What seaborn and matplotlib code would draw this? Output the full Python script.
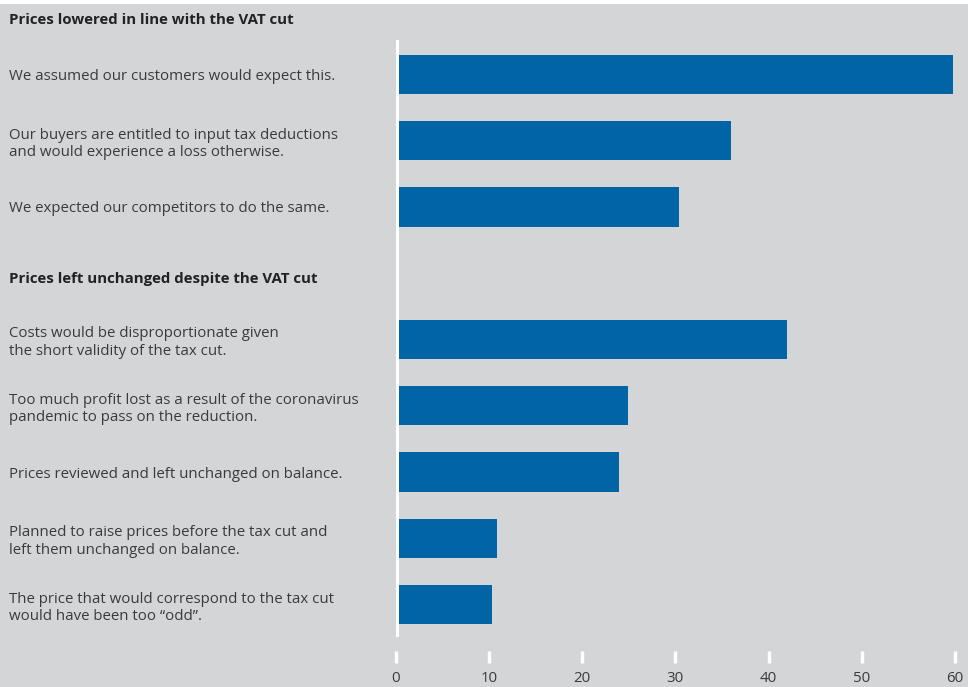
import matplotlib
matplotlib.use("Agg")
import matplotlib.pyplot as plt
import matplotlib.transforms as mtransforms
from matplotlib.patches import Rectangle
import seaborn as sns
import pandas as pd

headings = ["Prices lowered in line with the VAT cut",
            "Prices left unchanged despite the VAT cut"]
labels = [
    "We assumed our customers would expect this.",
    "Our buyers are entitled to input tax deductions\nand would experience a loss otherwise.",
    "We expected our competitors to do the same.",
    "Costs would be disproportionate given\nthe short validity of the tax cut.",
    "Too much profit lost as a result of the coronavirus\npandemic to pass on the reduction.",
    "Prices reviewed and left unchanged on balance.",
    "Planned to raise prices before the tax cut and\nleft them unchanged on balance.",
    "The price that would correspond to the tax cut\nwould have been too \u201codd\u201d.",
]
values = [59.8, 36.0, 30.4, 42.0, 24.9, 24.0, 10.9, 10.4]
xticks = [0, 10, 20, 30, 40, 50, 60]

BG = "#d4d5d7"
BLUE = "#0064a5"
TXT = "#3a3a3a"
FS = 10.8

sns.set_theme(style="white")
plt.rcParams['font.family'] = ['Open Sans', 'DejaVu Sans']

W, H = 968, 687
fig = plt.figure(figsize=(W / 100, H / 100), dpi=100, facecolor=BG)
fig.patches.append(Rectangle((0, 1 - 4 / H), 1, 4 / H, transform=fig.transFigure,
                             facecolor="white", edgecolor="none", zorder=0))
x0, x60, ytop, ybot = 395.5, 955.0, 40.0, 637.0
ax = fig.add_axes([x0 / W, 1 - ybot / H, (x60 - x0) / W, (ybot - ytop) / H])
ax.set_facecolor(BG)

gap = " "
order = labels[:3] + [gap] + labels[3:]
df = pd.DataFrame({"label": labels, "value": values})
sns.barplot(data=df, y="label", x="value", order=order, color=BLUE, width=0.59,
            saturation=1, orient="h", ax=ax, zorder=2, linewidth=0,
            edgecolor=BLUE)

ax.set_xlim(0, 60)
ax.set_ylim(8.49, -0.52)
ax.axvline(0, color="white", lw=3.6, zorder=3)

for s in ax.spines.values():
    s.set_visible(False)
ax.spines['bottom'].set_position(('outward', 10))

ax.set_xlabel("")
ax.set_ylabel("")
ax.set_xticks(xticks)
ax.set_xticklabels([str(t) for t in xticks])
ax.tick_params(axis="x", bottom=True, direction="out", length=8.6, width=2.5,
               color="white", labelcolor=TXT, labelsize=FS, pad=6)

ax.set_yticks(range(len(order)))
ax.set_yticklabels(order)
ax.tick_params(axis="y", left=False, length=0, pad=(x0 - 9) * 0.72,
               labelcolor=TXT, labelsize=FS)
for t in ax.get_yticklabels():
    t.set_horizontalalignment("left")
    t.set_multialignment("left")
    t.set_linespacing(1.22)

trans = mtransforms.blended_transform_factory(fig.transFigure, ax.transData)
for pos, h in zip([-0.82, 3.09], headings):
    ax.text(9 / W, pos, h, transform=trans, ha="left", va="center",
            fontsize=FS, fontweight="bold", color="#222222", clip_on=False)

fig.savefig("out.png", dpi=100, facecolor=BG)
